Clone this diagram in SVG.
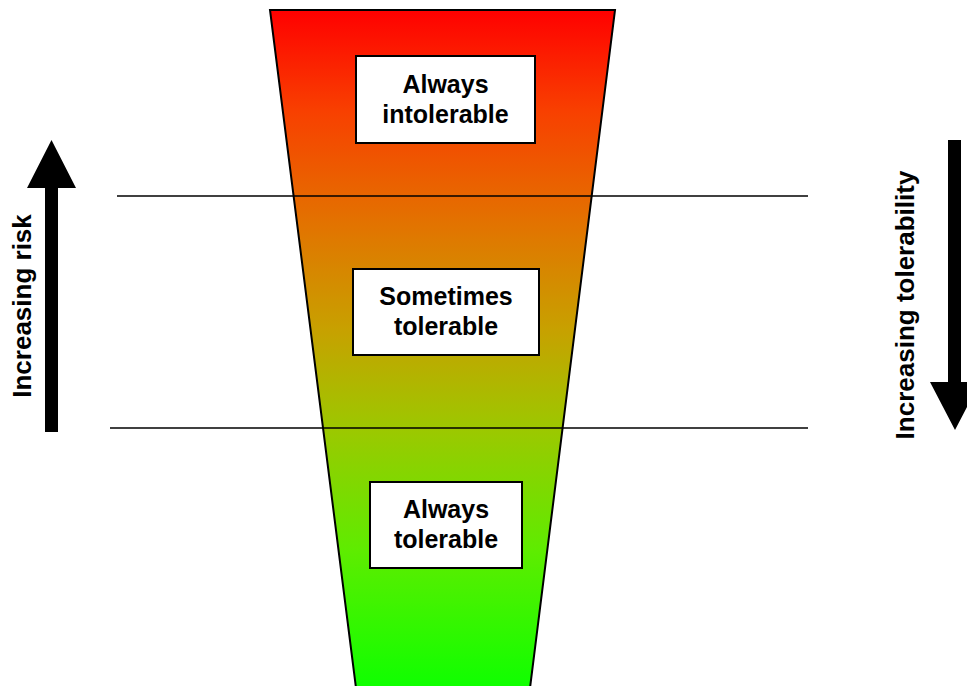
<svg xmlns="http://www.w3.org/2000/svg" width="967" height="686" viewBox="0 0 967 686">
<defs>
<linearGradient id="g" x1="0" y1="10" x2="0" y2="686" gradientUnits="userSpaceOnUse">
<stop offset="0" stop-color="#ff0000"/>
<stop offset="0.15" stop-color="#f84000"/>
<stop offset="0.32" stop-color="#e27400"/>
<stop offset="0.47" stop-color="#c8a000"/>
<stop offset="0.62" stop-color="#9cc800"/>
<stop offset="0.8" stop-color="#5eec00"/>
<stop offset="1" stop-color="#10ff00"/>
</linearGradient>
<style>
.lbl{font-family:"Liberation Sans",Arial,sans-serif;font-weight:bold;font-size:25px;fill:#000;text-anchor:middle}
.side{font-family:"Liberation Sans",Arial,sans-serif;font-weight:bold;font-size:26px;fill:#000;text-anchor:middle}
.box{fill:#fff;stroke:#000;stroke-width:2}
.ln{stroke:#000;stroke-width:1.6;fill:none}
</style>
</defs>
<g id="funnel">
<polygon points="270,10 615,10 530,688 356,688" fill="url(#g)" stroke="#000" stroke-width="2"/>
</g>
<g id="connectors">
<line class="ln" x1="117" y1="196" x2="808" y2="196"/>
<line class="ln" x1="110" y1="428" x2="808" y2="428"/>
</g>
<g id="always-intolerable">
<rect class="box" x="356" y="56" width="179" height="87"/>
<text class="lbl" x="445.5" y="93">Always</text>
<text class="lbl" x="445.5" y="123">intolerable</text>
</g>
<g id="sometimes-tolerable">
<rect class="box" x="353" y="269" width="186" height="86"/>
<text class="lbl" x="446" y="305">Sometimes</text>
<text class="lbl" x="446" y="335">tolerable</text>
</g>
<g id="always-tolerable">
<rect class="box" x="370" y="482" width="152" height="86"/>
<text class="lbl" x="446" y="518">Always</text>
<text class="lbl" x="446" y="548">tolerable</text>
</g>
<g id="increasing-risk">
<polygon points="45,432 58,432 58,188 76,188 51.5,140 27,188 45,188" fill="#000"/>
<text class="side" transform="translate(31,306) rotate(-90)">Increasing risk</text>
</g>
<g id="increasing-tolerability">
<polygon points="948,140 961,140 961,382 980,382 955,430 930,382 948,382" fill="#000"/>
<text class="side" transform="translate(914,305) rotate(-90)">Increasing tolerability</text>
</g>
</svg>
